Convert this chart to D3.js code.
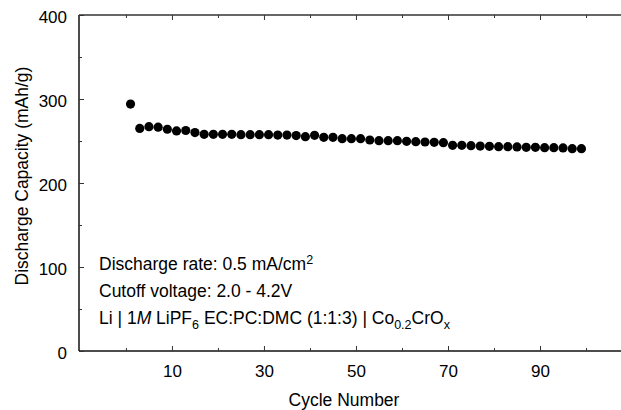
<!DOCTYPE html>
<html>
<head>
<meta charset="utf-8">
<script src="https://cdn.jsdelivr.net/npm/d3@7"></script>
<style>
  body { margin: 0; background: #fff; }
  svg { display: block; font-family: "Liberation Sans", Arial, sans-serif; }
</style>
</head>
<body>
<div id="chart"></div>
<script>
// discharge capacity (mAh/g) for every other cycle
var cycles = d3.range(1, 100, 2);
var capacity = [294, 265, 267, 266.5, 264, 262, 262.5, 260, 258, 258,
                258, 258, 257.5, 257.5, 257.5, 257.5, 257, 257, 256.5, 255.2,
                256.7, 254.4, 254.4, 252.8, 252.8, 252.8, 251.2, 250.4, 250.4, 250.4,
                249.6, 249.2, 248.8, 248.4, 248, 244.8, 244.8, 244.4, 244, 243.7,
                243.3, 243.3, 242.9, 242.5, 242.5, 242.1, 242.1, 241.7, 240.9, 240.9];
var xMajor = [10, 30, 50, 70, 90];
var xMinor = [0, 20, 40, 60, 80, 100];
var yMajor = [0, 100, 200, 300, 400];
var yMinor = [50, 150, 250, 350];

var cfg = { w: 621, h: 410, left: 79, right: 621, top: 15, bottom: 351 };

var svg = d3.select("#chart").append("svg")
    .attr("width", cfg.w)
    .attr("height", cfg.h);

var x = d3.scaleLinear().domain([-10.2, 107.6]).range([cfg.left, cfg.right]);
var y = d3.scaleLinear().domain([0, 400]).range([cfg.bottom, cfg.top]);

// frame lines (left, top, bottom)
svg.append("line").attr("x1", cfg.left).attr("x2", cfg.left).attr("y1", cfg.top).attr("y2", cfg.bottom)
    .attr("stroke", "#111").attr("stroke-width", 1.5);
svg.append("line").attr("x1", cfg.left).attr("x2", cfg.right).attr("y1", cfg.top).attr("y2", cfg.top)
    .attr("stroke", "#333").attr("stroke-width", 1.5);
svg.append("line").attr("x1", cfg.left).attr("x2", cfg.right).attr("y1", cfg.bottom).attr("y2", cfg.bottom)
    .attr("stroke", "#111").attr("stroke-width", 1.5);

// inward ticks
var axisBottom = d3.axisBottom(x).tickValues(xMajor).tickSize(-5).tickPadding(14).tickSizeOuter(0);
var gx = svg.append("g").attr("transform", "translate(0," + cfg.bottom + ")").call(axisBottom);
gx.select(".domain").remove();
gx.selectAll("text").style("font-size", "17px").attr("fill", "#000");

var gxMinor = svg.append("g").attr("transform", "translate(0," + cfg.bottom + ")")
    .call(d3.axisBottom(x).tickValues(xMinor).tickSize(-3).tickFormat(""));
gxMinor.select(".domain").remove();

var gxTop = svg.append("g").attr("transform", "translate(0," + cfg.top + ")")
    .call(d3.axisTop(x).tickValues(xMajor).tickSize(-5).tickFormat(""));
gxTop.select(".domain").remove();
var gxTopMinor = svg.append("g").attr("transform", "translate(0," + cfg.top + ")")
    .call(d3.axisTop(x).tickValues(xMinor).tickSize(-3).tickFormat(""));
gxTopMinor.select(".domain").remove();

var gy = svg.append("g").attr("transform", "translate(" + cfg.left + ",0)")
    .call(d3.axisLeft(y).tickValues(yMajor).tickSize(-5).tickPadding(12));
gy.select(".domain").remove();
gy.selectAll("text").style("font-size", "17px").attr("fill", "#000").attr("dy", "0.42em");

var gyMinor = svg.append("g").attr("transform", "translate(" + cfg.left + ",0)")
    .call(d3.axisLeft(y).tickValues(yMinor).tickSize(-3).tickFormat(""));
gyMinor.select(".domain").remove();

svg.selectAll(".tick line").attr("stroke", "#333");

// data points
svg.append("g").selectAll("circle")
    .data(cycles.map(function(c, i) { return { c: c, v: capacity[i] }; }))
    .enter()
    .append("circle")
    .attr("cx", function(d) { return x(d.c); })
    .attr("cy", function(d) { return y(d.v); })
    .attr("r", 4.6)
    .attr("fill", "#000");

// axis titles
svg.append("text")
    .attr("transform", "translate(28,176) rotate(-90)")
    .style("text-anchor", "middle")
    .style("font-size", "17.5px")
    .text("Discharge Capacity (mAh/g)");

svg.append("text")
    .attr("x", 344)
    .attr("y", 406)
    .style("text-anchor", "middle")
    .style("font-size", "17.5px")
    .text("Cycle Number");

// annotation
var note = svg.append("g").style("font-size", "17.5px");
var t1 = note.append("text").attr("x", 99).attr("y", 270);
t1.append("tspan").text("Discharge rate: 0.5 mA/cm");
t1.append("tspan").attr("dy", -6).style("font-size", "12.5px").text("2");

note.append("text").attr("x", 99).attr("y", 297).text("Cutoff voltage: 2.0 - 4.2V");

var t3 = note.append("text").attr("x", 99).attr("y", 324);
t3.append("tspan").text("Li | 1");
t3.append("tspan").style("font-style", "italic").text("M");
t3.append("tspan").text(" LiPF");
t3.append("tspan").attr("dy", 5).style("font-size", "12.5px").text("6");
t3.append("tspan").attr("dy", -5).text(" EC:PC:DMC (1:1:3) | Co");
t3.append("tspan").attr("dy", 5).style("font-size", "12.5px").text("0.2");
t3.append("tspan").attr("dy", -5).text("CrO");
t3.append("tspan").attr("dy", 5).style("font-size", "12.5px").text("x");
</script>
</body>
</html>
